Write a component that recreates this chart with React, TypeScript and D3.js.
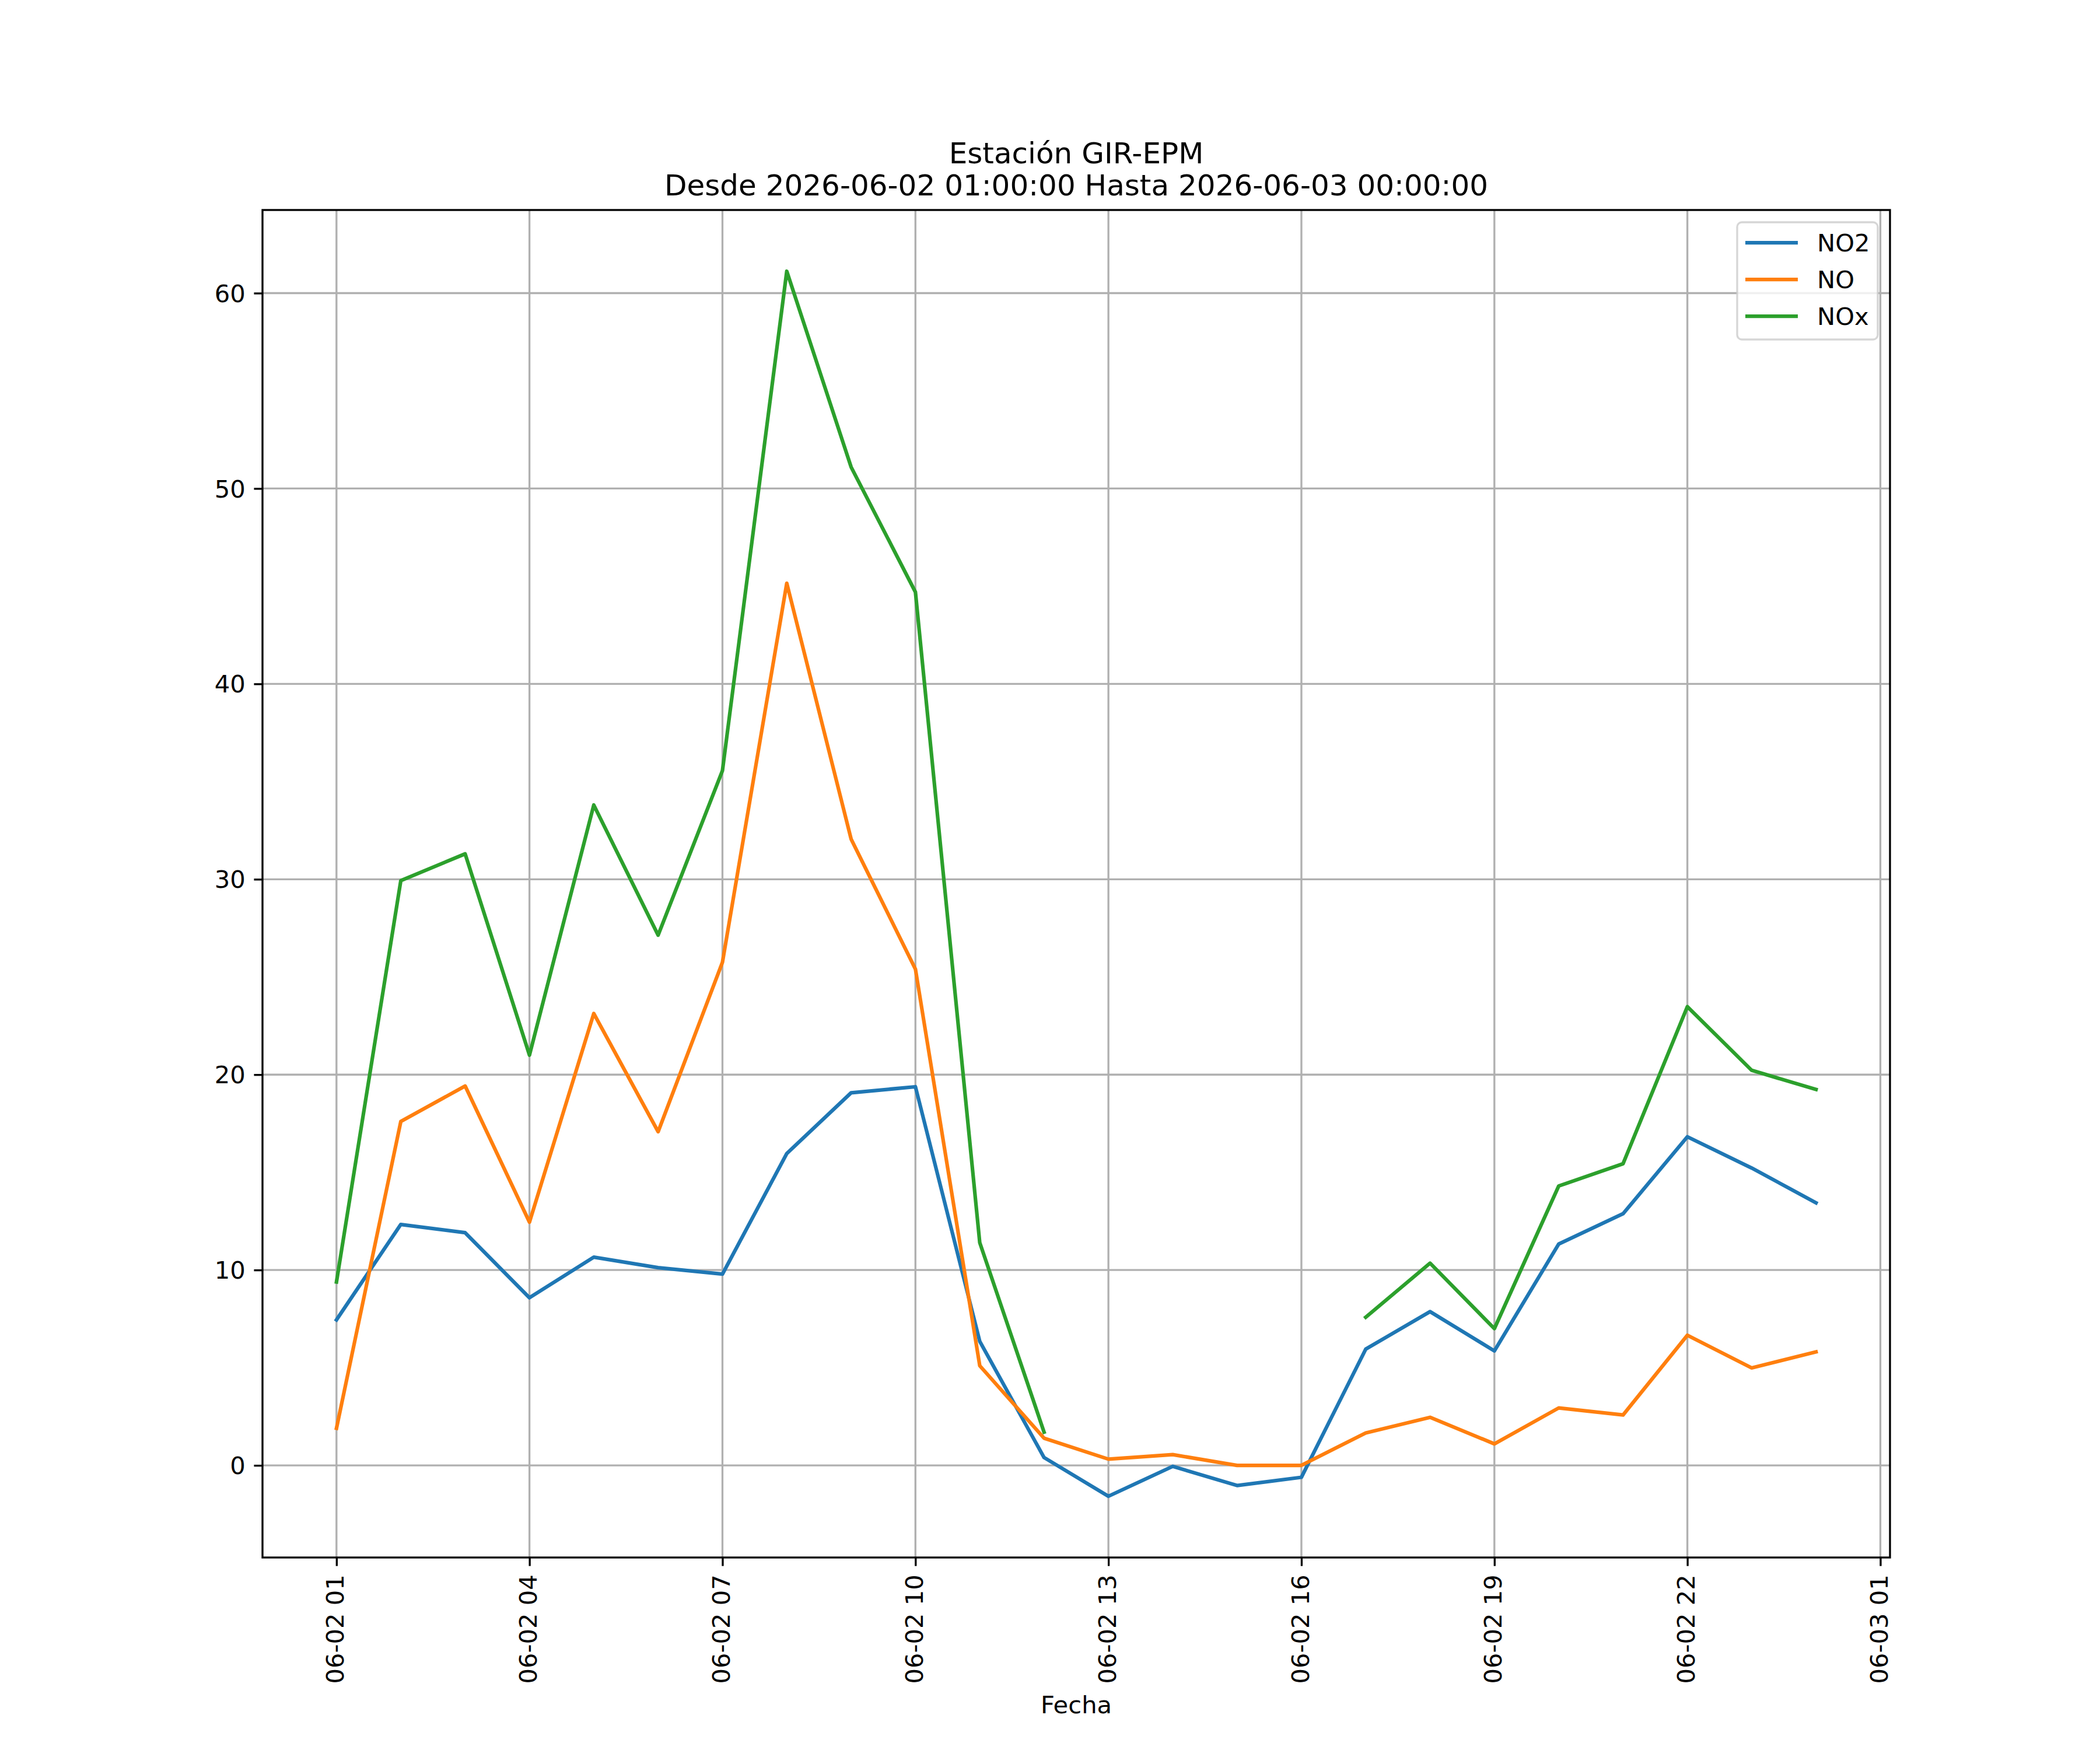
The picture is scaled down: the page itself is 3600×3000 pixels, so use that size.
import React, { useRef, useEffect } from 'react';
import * as d3 from 'd3';

// Horas de medición
const times: string[] = [
    '2026-06-02 01:00', '2026-06-02 02:00', '2026-06-02 03:00', '2026-06-02 04:00',
    '2026-06-02 05:00', '2026-06-02 06:00', '2026-06-02 07:00', '2026-06-02 08:00',
    '2026-06-02 09:00', '2026-06-02 10:00', '2026-06-02 11:00', '2026-06-02 12:00',
    '2026-06-02 13:00', '2026-06-02 14:00', '2026-06-02 15:00', '2026-06-02 16:00',
    '2026-06-02 17:00', '2026-06-02 18:00', '2026-06-02 19:00', '2026-06-02 20:00',
    '2026-06-02 21:00', '2026-06-02 22:00', '2026-06-02 23:00', '2026-06-03 00:00',
];

const no2: (number | null)[] = [
    7.45, 12.33, 11.91, 8.58, 10.66, 10.12, 9.79, 15.96, 19.07, 19.38, 6.35, 0.4,
    -1.58, -0.05, -1.03, -0.61, 5.95, 7.87, 5.86, 11.33, 12.88, 16.82, 15.22, 13.44,
];

const no: (number | null)[] = [
    1.9, 17.6, 19.42, 12.45, 23.13, 17.08, 25.75, 45.15, 32.06, 25.4, 5.1, 1.39,
    0.32, 0.55, 0.0, 0.0, 1.66, 2.46, 1.1, 2.94, 2.58, 6.66, 4.99, 5.81,
];

const nox: (number | null)[] = [
    9.39, 29.93, 31.3, 21.0, 33.8, 27.14, 35.56, 61.12, 51.1, 44.7, 11.4, 1.7,
    null, null, null, null, 7.58, 10.35, 7.0, 14.3, 15.44, 23.48, 20.22, 19.24,
];

const seriesNames = ['NO2', 'NO', 'NOx'];
const seriesColors = ['#1f77b4', '#ff7f0e', '#2ca02c'];

const xTicks: string[] = [
    '2026-06-02 01:00', '2026-06-02 04:00', '2026-06-02 07:00', '2026-06-02 10:00',
    '2026-06-02 13:00', '2026-06-02 16:00', '2026-06-02 19:00', '2026-06-02 22:00',
    '2026-06-03 01:00',
];
const yTicks = [0, 10, 20, 30, 40, 50, 60];

const titleLines = ['Estación GIR-EPM', 'Desde 2026-06-02 01:00:00 Hasta 2026-06-03 00:00:00'];
const xLabel = 'Fecha';

const Chart: React.FC = () => {
    const ref = useRef<SVGSVGElement>(null);

    useEffect(() => {
        const svg = d3.select(ref.current);
        svg.selectAll('*').remove();

        const W = 3600;
        const H = 3000;
        const margin = { top: 360, right: 360, bottom: 330, left: 450 };
        const width = W - margin.left - margin.right;
        const height = H - margin.top - margin.bottom;
        const pt = 300 / 72;
        const font = 'DejaVu Sans, sans-serif';
        const fs = 10 * pt;

        const parse = d3.timeParse('%Y-%m-%d %H:%M');
        const dates = times.map(t => parse(t)!);
        const series = [no2, no, nox];

        // Escalas con margen del 5% como matplotlib
        const [t0, t1] = d3.extent(dates) as [Date, Date];
        const tPad = (t1.getTime() - t0.getTime()) * 0.05;
        const x = d3.scaleTime()
            .domain([new Date(t0.getTime() - tPad), new Date(t1.getTime() + tPad)])
            .range([0, width]);

        const allVals = series.flat().filter(v => v != null) as number[];
        const [vMin, vMax] = d3.extent(allVals) as [number, number];
        const vPad = (vMax - vMin) * 0.05;
        const y = d3.scaleLinear()
            .domain([vMin - vPad, vMax + vPad])
            .range([height, 0]);

        svg.append('rect').attr('width', W).attr('height', H).attr('fill', 'white');

        // Título
        const title = svg.append('text')
            .attr('x', margin.left + width / 2)
            .attr('text-anchor', 'middle')
            .style('font-family', font)
            .style('font-size', `${12 * pt}px`)
            .attr('fill', 'black');
        title.append('tspan').attr('x', margin.left + width / 2).attr('y', 280).text(titleLines[0]);
        title.append('tspan').attr('x', margin.left + width / 2).attr('y', 335).text(titleLines[1]);

        const g = svg.append('g').attr('transform', `translate(${margin.left},${margin.top})`);

        // Rejilla
        const tickDates = xTicks.map(t => parse(t)!);
        g.append('g')
            .selectAll('line')
            .data(tickDates)
            .enter()
            .append('line')
            .attr('x1', d => x(d)).attr('x2', d => x(d))
            .attr('y1', 0).attr('y2', height)
            .attr('stroke', '#b0b0b0')
            .attr('stroke-width', 0.8 * pt);
        g.append('g')
            .selectAll('line')
            .data(yTicks)
            .enter()
            .append('line')
            .attr('x1', 0).attr('x2', width)
            .attr('y1', d => y(d)).attr('y2', d => y(d))
            .attr('stroke', '#b0b0b0')
            .attr('stroke-width', 0.8 * pt);

        // Líneas
        const line = d3.line<number | null>()
            .defined(d => d != null)
            .x((_, i) => x(dates[i]))
            .y(d => y(d as number));

        series.forEach((s, i) => {
            g.append('path')
                .datum(s)
                .attr('d', line)
                .attr('fill', 'none')
                .attr('stroke', seriesColors[i])
                .attr('stroke-width', 1.5 * pt)
                .attr('stroke-linejoin', 'round')
                .attr('stroke-linecap', 'square');
        });

        // Ejes
        const xAxis = d3.axisBottom<Date>(x)
            .tickValues(tickDates)
            .tickFormat(d3.timeFormat('%m-%d %H'))
            .tickSizeInner(3.5 * pt)
            .tickSizeOuter(0)
            .tickPadding(3.5 * pt);
        const gx = g.append('g').attr('transform', `translate(0,${height})`).call(xAxis);
        gx.select('.domain').remove();
        gx.selectAll('line').attr('stroke', 'black').attr('stroke-width', 0.8 * pt);
        gx.selectAll('text')
            .attr('transform', 'rotate(-90)')
            .attr('x', -(3.5 * pt + 3.5 * pt))
            .attr('y', 0)
            .attr('dy', '0.29em')
            .attr('text-anchor', 'end')
            .attr('fill', 'black')
            .style('font-family', font)
            .style('font-size', `${fs}px`);

        const yAxis = d3.axisLeft(y)
            .tickValues(yTicks)
            .tickFormat(d3.format('d'))
            .tickSizeInner(3.5 * pt)
            .tickSizeOuter(0)
            .tickPadding(3.5 * pt);
        const gy = g.append('g').call(yAxis);
        gy.select('.domain').remove();
        gy.selectAll('line').attr('stroke', 'black').attr('stroke-width', 0.8 * pt);
        gy.selectAll('text')
            .attr('fill', 'black')
            .attr('dy', '0.35em')
            .style('font-family', font)
            .style('font-size', `${fs}px`);

        // Bordes
        g.append('rect')
            .attr('width', width)
            .attr('height', height)
            .attr('fill', 'none')
            .attr('stroke', 'black')
            .attr('stroke-width', 0.8 * pt);

        // Etiqueta eje x
        svg.append('text')
            .attr('x', margin.left + width / 2)
            .attr('y', 2937)
            .attr('text-anchor', 'middle')
            .style('font-family', font)
            .style('font-size', `${fs}px`)
            .text(xLabel);

        // Leyenda
        const legend = g.append('g').attr('transform', `translate(${width - 262},21)`);
        legend.append('rect')
            .attr('width', 241)
            .attr('height', 201)
            .attr('rx', 8)
            .attr('fill', 'white')
            .attr('fill-opacity', 0.8)
            .attr('stroke', '#cccccc')
            .attr('stroke-opacity', 0.8)
            .attr('stroke-width', 0.8 * pt);
        seriesNames.forEach((name, i) => {
            const ly = 35 + i * 63;
            legend.append('line')
                .attr('x1', 14).attr('x2', 104)
                .attr('y1', ly).attr('y2', ly)
                .attr('stroke', seriesColors[i])
                .attr('stroke-width', 1.5 * pt);
            legend.append('text')
                .attr('x', 137)
                .attr('y', ly)
                .attr('dy', '0.36em')
                .style('font-family', font)
                .style('font-size', `${fs}px`)
                .text(name);
        });
    }, []);

    return (
        <svg
            ref={ref}
            width={3600}
            height={3000}
            style={{ position: 'absolute', left: 0, top: 0, display: 'block' }}
        />
    );
};

export default function App() {
    return <Chart />;
}
